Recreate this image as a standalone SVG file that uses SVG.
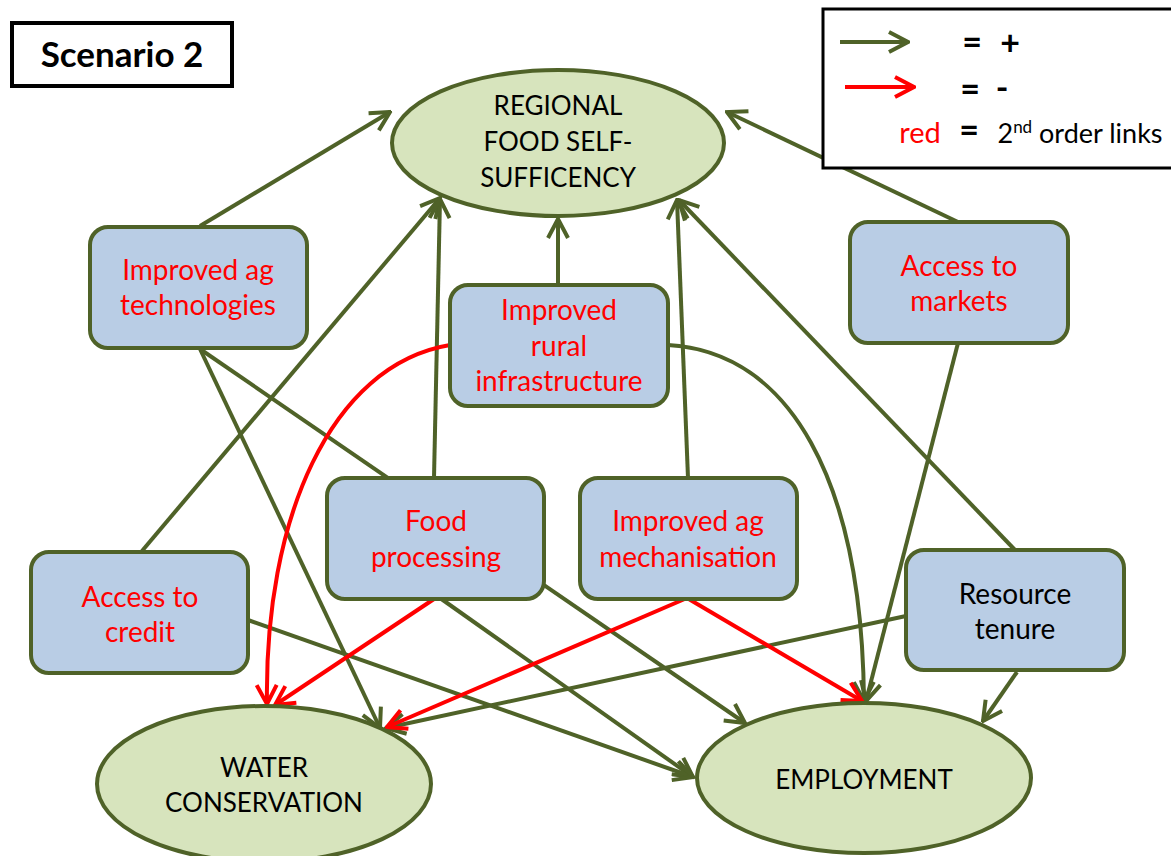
<svg xmlns="http://www.w3.org/2000/svg" width="1171" height="856" viewBox="0 0 1171 856">
<style>
.box{fill:#b9cde5;stroke:#4f6228;stroke-width:4}
.ell{fill:#d7e4bd;stroke:#4f6228;stroke-width:4}
.g{fill:none;stroke:#4f6228;stroke-width:4;marker-end:url(#ag)}
.r{fill:none;stroke:#ff0000;stroke-width:4;marker-end:url(#ar)}
text{font-family:Lato,"Open Sans","Liberation Sans",sans-serif;font-size:28px;text-anchor:middle}
.et{font-size:26px}
.rt{fill:#ff0000}
.bt{fill:#000}
.sym{font-size:34px;font-weight:bold}
</style>
<defs>
<marker id="ag" markerUnits="userSpaceOnUse" viewBox="-22 -12 24 24" refX="0" refY="0" markerWidth="24" markerHeight="24" orient="auto">
<path d="M-19,-10 L0,0 L-19,10" fill="none" stroke="#4f6228" stroke-width="4"/>
</marker>
<marker id="ar" markerUnits="userSpaceOnUse" viewBox="-22 -12 24 24" refX="0" refY="0" markerWidth="24" markerHeight="24" orient="auto">
<path d="M-19,-10 L0,0 L-19,10" fill="none" stroke="#ff0000" stroke-width="4"/>
</marker>
</defs>
<rect width="1171" height="856" fill="#fff"/>

<g id="connectors">
<path class="g" d="M200,226 L390,112"/>
<path class="g" d="M958,222 L727,112"/>
<path class="g" d="M558,285 L558,219"/>
<path class="g" d="M142,551 L440,198"/>
<path class="g" d="M434,478 L440,199"/>
<path class="g" d="M688,478 L677,200"/>
<path class="g" d="M1015,550 L679,200"/>
<path class="g" d="M200,349 L380,728"/>
<path class="g" d="M200,349 L745,723"/>
<path class="g" d="M958,343 L866,701"/>
<path class="g" d="M668,345 C790,352 862,480 864,701"/>
<path class="g" d="M440,598 L693,777"/>
<path class="g" d="M248,620 L693,777"/>
<path class="g" d="M906,616 L386,728"/>
<path class="g" d="M1017,672 L983,721"/>
<path class="r" d="M450,345 C330,365 264,520 267,704"/>
<path class="r" d="M434,599 L275,705"/>
<path class="r" d="M687,598 L387,727"/>
<path class="r" d="M687,598 L862,701"/>
</g>

<g id="title">
<rect x="12" y="23" width="220" height="63" fill="#fff" stroke="#000" stroke-width="4"/>
<text x="122" y="67" style="font-size:35px;font-weight:bold" class="bt">Scenario 2</text>
</g>

<g id="legend">
<rect x="823" y="9" width="352" height="159" fill="#fff" stroke="#000" stroke-width="3"/>
<path class="g" d="M840,42 L908,42"/>
<path class="r" d="M845,87 L914,87"/>
<text x="972" y="54" class="bt sym">=</text>
<text x="1010" y="55" class="bt sym">+</text>
<text x="970" y="101" class="bt sym">=</text>
<text x="1002" y="100" class="bt sym">-</text>
<text x="920" y="143" style="font-size:29px" class="rt">red</text>
<text x="969" y="142" class="bt sym">=</text>
<text x="1080" y="143" style="font-size:27px" class="bt">2<tspan dy="-10" style="font-size:17px">nd</tspan><tspan dy="10"> order links</tspan></text>
</g>

<g id="regional">
<ellipse class="ell" cx="558" cy="143" rx="166" ry="73"/>
<text x="558" y="115" class="bt et">REGIONAL</text>
<text x="558" y="151" class="bt et">FOOD SELF-</text>
<text x="558" y="187" class="bt et">SUFFICENCY</text>
</g>

<g id="water">
<ellipse class="ell" cx="264" cy="784" rx="167" ry="78"/>
<text x="264" y="777" class="bt et">WATER</text>
<text x="264" y="812" class="bt et">CONSERVATION</text>
</g>

<g id="employment">
<ellipse class="ell" cx="864" cy="778" rx="167" ry="75"/>
<text x="864" y="789" class="bt et">EMPLOYMENT</text>
</g>

<g id="agtech">
<rect class="box" x="90" y="227" width="217" height="121" rx="18"/>
<text x="198" y="280" class="rt">Improved ag</text>
<text x="198" y="315" class="rt">technologies</text>
</g>

<g id="markets">
<rect class="box" x="850" y="222" width="218" height="121" rx="18"/>
<text x="959" y="276" class="rt">Access to</text>
<text x="959" y="311" class="rt">markets</text>
</g>

<g id="infrastructure">
<rect class="box" x="450" y="285" width="218" height="121" rx="18"/>
<text x="559" y="320" class="rt">Improved</text>
<text x="559" y="356" class="rt">rural</text>
<text x="559" y="391" class="rt">infrastructure</text>
</g>

<g id="foodprocessing">
<rect class="box" x="327" y="478" width="217" height="121" rx="18"/>
<text x="436" y="531" class="rt">Food</text>
<text x="436" y="567" class="rt">processing</text>
</g>

<g id="mechanisation">
<rect class="box" x="580" y="478" width="217" height="121" rx="18"/>
<text x="688" y="531" class="rt">Improved ag</text>
<text x="688" y="567" class="rt">mechanisation</text>
</g>

<g id="credit">
<rect class="box" x="31" y="552" width="217" height="121" rx="18"/>
<text x="140" y="607" class="rt">Access to</text>
<text x="140" y="642" class="rt">credit</text>
</g>

<g id="tenure">
<rect class="box" x="906" y="550" width="218" height="120" rx="18"/>
<text x="1015" y="604" class="bt">Resource</text>
<text x="1015" y="639" class="bt">tenure</text>
</g>
</svg>
